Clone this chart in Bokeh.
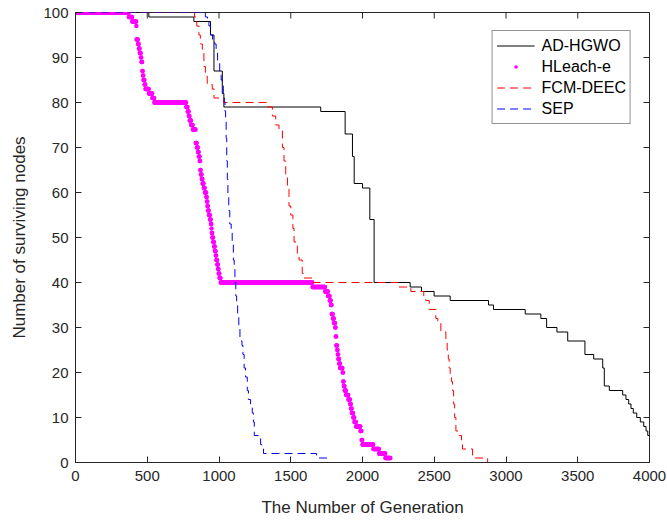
import numpy as np
from bokeh.plotting import figure
from bokeh.models import Range1d, Legend, LegendItem, FixedTicker
from bokeh.embed import file_html
from bokeh.resources import INLINE

# ---------------- data (generation at which the count becomes the value) -------------
x_ticks = [0, 500, 1000, 1500, 2000, 2500, 3000, 3500, 4000]
y_ticks = [0, 10, 20, 30, 40, 50, 60, 70, 80, 90, 100]

adhgwo_gen = [0, 511, 825, 941, 965, 1023, 1034, 1709, 1879, 1930, 1942, 2000, 2051, 2081,
              2332, 2411, 2499, 2611, 2878, 2913, 3134, 3243, 3283, 3355, 3430, 3550, 3611,
              3674, 3685, 3720, 3813, 3836, 3855, 3871, 3887, 3911, 3936, 3960, 3976, 3988, 4000]
adhgwo_nodes = [100, 99, 98, 95, 87, 82, 79, 78, 73, 68, 62, 61, 54, 40,
                39, 38, 37, 36, 35, 34, 33, 32, 30, 29, 27, 24, 23,
                21, 17, 16, 15, 14, 13, 12, 11, 10, 9, 8, 7, 6, 6]

hleach_gen = [0, 372, 395, 423, 425, 436, 442, 448, 455, 460, 465, 470, 474, 481, 488, 511, 535, 550,
              772, 781, 790, 795, 805, 818, 838, 846, 853, 860, 865, 870, 874, 879, 886, 893, 902,
              912, 916, 919, 923, 929, 938, 943, 947, 950, 953, 959, 966, 971, 977, 982, 987, 993,
              998, 1004, 1011, 1652, 1740, 1760, 1772, 1780, 1786, 1794, 1802, 1809, 1814, 1818,
              1823, 1827, 1832, 1837, 1844, 1862, 1866, 1870, 1875, 1886, 1902, 1914, 1919, 1925,
              1935, 1944, 1955, 1985, 1993, 2000, 2076, 2116, 2160]
hleach_nodes = [100, 99, 98, 97, 94, 93, 92, 91, 90, 89, 87, 86, 85, 84, 83, 82, 81, 80,
                79, 78, 77, 76, 75, 74, 71, 70, 69, 68, 67, 65, 64, 63, 62, 61, 60,
                59, 58, 57, 56, 55, 54, 53, 52, 51, 50, 49, 48, 47, 46, 45, 44, 43,
                42, 41, 40, 39, 38, 37, 36, 35, 33, 32, 31, 30, 28, 26,
                25, 24, 23, 22, 21, 20, 18, 17, 16, 15, 14, 13, 12, 11,
                10, 9, 8, 7, 5, 4, 3, 2, 1]
hleach_last_gen = 2195

fcm_gen = [0, 830, 845, 860, 870, 884, 895, 905, 918, 953, 965, 1034, 1340, 1372, 1395, 1418,
           1442, 1453, 1465, 1477, 1488, 1500, 1515, 1523, 1546, 1558, 1580, 1593, 1655,
           2250, 2337, 2427, 2441, 2465, 2511, 2525, 2546, 2581, 2590, 2598, 2604, 2611,
           2620, 2627, 2635, 2642, 2651, 2674, 2690, 2697, 2767, 2872, 4000]
fcm_nodes = [100, 99, 97, 95, 93, 91, 88, 86, 84, 83, 81, 80, 79, 77, 75, 74,
             70, 67, 64, 61, 57, 55, 52, 49, 46, 45, 42, 41, 40,
             39, 38, 37, 36, 34, 32, 31, 29, 27, 25, 23, 21, 19,
             18, 16, 13, 10, 7, 6, 5, 3, 1, 0, 0]

sep_gen = [0, 905, 920, 930, 941, 955, 970, 980, 990, 1005, 1015, 1023, 1030, 1037, 1042, 1046,
           1050, 1054, 1058, 1062, 1068, 1075, 1085, 1092, 1100, 1106, 1111, 1117, 1123, 1130,
           1138, 1146, 1160, 1167, 1175, 1185, 1197, 1205, 1220, 1232, 1240, 1246, 1290, 1298,
           1310, 1680, 1760, 4000]
sep_nodes = [100, 99, 98, 97, 95, 94, 93, 91, 89, 87, 85, 84, 82, 80, 78, 76,
             72, 67, 63, 59, 56, 53, 51, 49, 45, 43, 40, 37, 35, 33,
             30, 27, 26, 24, 21, 19, 16, 14, 13, 11, 9, 6, 4, 3,
             2, 1, 0, 0]

series_names = ["AD-HGWO", "HLeach-e", "FCM-DEEC", "SEP"]

# HLeach-e is drawn as a dot per sampled generation (value held until next change)
h_g = np.arange(0, hleach_last_gen + 1, 2)
h_idx = np.searchsorted(np.array(hleach_gen), h_g, side="right") - 1
h_y = np.array(hleach_nodes)[h_idx]

FONT = "Liberation Sans"
AX = "#262626"
X_MIN, X_MAX = x_ticks[0], x_ticks[-1]
Y_MIN, Y_MAX = y_ticks[0], y_ticks[-1]

p = figure(width=667, height=521, x_range=Range1d(X_MIN, X_MAX), y_range=Range1d(Y_MIN, Y_MAX),
           output_backend="svg", toolbar_location=None,
           min_border_left=75, min_border_right=18, min_border_top=12, min_border_bottom=59)
p.outline_line_color = AX
p.outline_line_width = 1
p.xgrid.visible = False
p.ygrid.visible = False
p.background_fill_color = "white"
p.border_fill_color = "white"

r1 = p.step(adhgwo_gen, adhgwo_nodes, mode="after", line_color="black", line_width=1)
r2 = p.scatter(h_g, h_y, size=4.5, fill_color="#FF00FF", line_color="#FF00FF", line_width=0)
r3 = p.step(fcm_gen, fcm_nodes, mode="after", line_color="#FF0000", line_width=1, line_dash="8 5")
r4 = p.step(sep_gen, sep_nodes, mode="after", line_color="#0000FF", line_width=1, line_dash="8 5")

# inward ticks on the top and right edges of the box
p.ray(x=x_ticks, y=Y_MAX, length=6, length_units="screen", angle=-np.pi / 2,
      line_color=AX, line_width=1)
p.ray(x=X_MAX, y=y_ticks, length=6, length_units="screen", angle=np.pi,
      line_color=AX, line_width=1)


def style_axis(ax):
    ax.major_tick_in = 6
    ax.major_tick_out = 0
    ax.minor_tick_line_color = None
    ax.axis_line_color = AX
    ax.major_tick_line_color = AX
    ax.major_label_text_color = AX
    ax.major_label_text_font = FONT
    ax.major_label_text_font_size = "15px"
    ax.axis_label_text_font = FONT
    ax.axis_label_text_font_style = "normal"
    ax.axis_label_text_font_size = "17px"
    ax.axis_label_text_color = AX


p.xaxis.ticker = FixedTicker(ticks=x_ticks)
p.yaxis.ticker = FixedTicker(ticks=y_ticks)
style_axis(p.xaxis[0])
style_axis(p.yaxis[0])
p.xaxis.axis_label = "The Number of Generation"
p.yaxis.axis_label = "Number of surviving nodes"
p.xaxis.major_label_standoff = 8
p.yaxis.major_label_standoff = 7
p.xaxis.axis_label_standoff = 14
p.yaxis.axis_label_standoff = 11

legend = Legend(items=[LegendItem(label=series_names[0], renderers=[r1]),
                       LegendItem(label=series_names[1], renderers=[r2]),
                       LegendItem(label=series_names[2], renderers=[r3]),
                       LegendItem(label=series_names[3], renderers=[r4])],
                location="top_right")
legend.margin = 18
legend.padding = 4
legend.spacing = 0
legend.label_height = 21
legend.glyph_height = 9
legend.glyph_width = 38
legend.label_standoff = 7
legend.label_text_font = FONT
legend.label_text_font_size = "16px"
legend.label_text_color = "black"
legend.border_line_color = AX
legend.border_line_width = 1
legend.background_fill_color = "white"
legend.background_fill_alpha = 1
p.add_layout(legend)

open("out.html", "w").write(file_html(p, INLINE))
